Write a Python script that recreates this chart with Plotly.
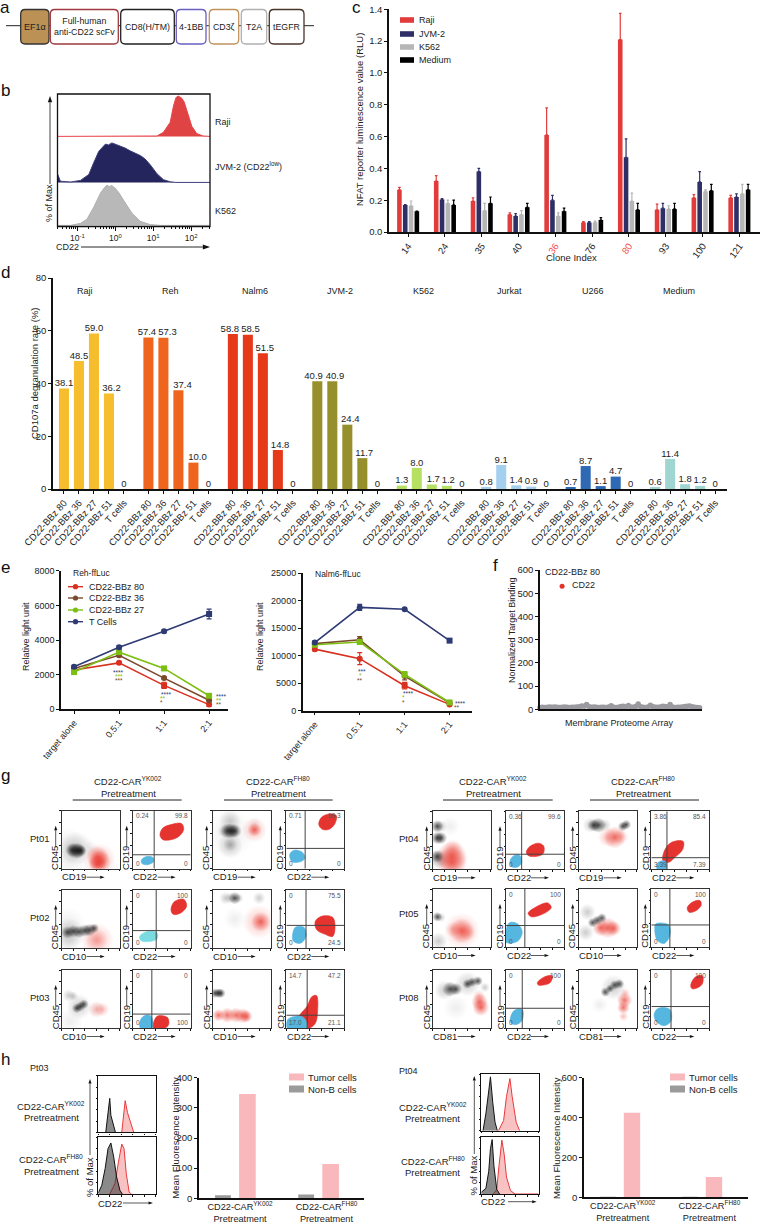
import numpy as np
import plotly.graph_objects as go

W, H = 760, 1224
FONT = "Liberation Sans"
INK = "#222222"

# ---------- panel b: histograms (log10 CD22, % of max)
B_RAJI_X = [-1.53, 0.6, 1.10, 1.27, 1.45, 1.535, 1.60, 1.66, 1.75, 1.82, 1.89, 2.02, 2.15, 2.32, 2.5]
B_RAJI_Y = [0, 0, 1, 10, 35, 75, 96, 100, 95, 85, 62, 25, 7, 1, 0]
B_JVM_X = [-1.53, -1.52, -1.45, -1.18, -0.92, -0.7, -0.57, -0.44, -0.35, -0.26, -0.18, -0.09, 0.02, 0.13, 0.26, 0.39, 0.52, 0.66, 0.78, 0.92, 1.1, 1.27, 1.45, 1.6, 2.5]
B_JVM_Y = [0, 20, 3, 1, 5, 20, 50, 78, 88, 97, 95, 100, 96, 92, 87, 80, 75, 68, 60, 45, 22, 7, 1.5, 0, 0]
B_K562_X = [-1.53, -1.18, -0.92, -0.75, -0.57, -0.39, -0.3, -0.22, -0.16, -0.1, 0, 0.1, 0.22, 0.44, 0.66, 0.92, 1.2, 2.5]
B_K562_Y = [0, 0, 5, 15, 45, 80, 92, 100, 96, 99, 92, 80, 62, 30, 10, 2, 0, 0]

# ---------- panel c
C_CLONES = ["14", "24", "35", "40", "36", "76", "80", "93", "100", "121"]
C_RAJI = [0.265, 0.32, 0.195, 0.11, 0.61, 0.06, 1.21, 0.14, 0.215, 0.215]
C_RAJI_TOP = [0.28, 0.355, 0.215, 0.12, 0.78, 0.065, 1.375, 0.175, 0.235, 0.23]
C_JVM = [0.17, 0.205, 0.38, 0.10, 0.20, 0.06, 0.47, 0.15, 0.315, 0.22]
C_JVM_TOP = [0.172, 0.21, 0.40, 0.115, 0.23, 0.065, 0.585, 0.18, 0.38, 0.24]
C_K562 = [0.165, 0.18, 0.135, 0.11, 0.10, 0.06, 0.195, 0.145, 0.255, 0.24]
C_K562_TOP = [0.195, 0.20, 0.18, 0.135, 0.12, 0.068, 0.245, 0.165, 0.265, 0.30]
C_MED = [0.13, 0.17, 0.18, 0.155, 0.13, 0.075, 0.14, 0.145, 0.26, 0.265]
C_MED_TOP = [0.132, 0.20, 0.22, 0.18, 0.15, 0.09, 0.18, 0.18, 0.30, 0.30]

# ---------- panel d
D_TARGETS = ["Raji", "Reh", "Nalm6", "JVM-2", "K562", "Jurkat", "U266", "Medium"]
D_CLONES = ["CD22-BBz 80", "CD22-BBz 36", "CD22-BBz 27", "CD22-BBz 51", "T cells"]
D_VALUES = [
    [38.1, 48.5, 59.0, 36.2, 0],
    [57.4, 57.3, 37.4, 10.0, 0],
    [58.8, 58.5, 51.5, 14.8, 0],
    [40.9, 40.9, 24.4, 11.7, 0],
    [1.3, 8.0, 1.7, 1.2, 0],
    [0.8, 9.1, 1.4, 0.9, 0],
    [0.7, 8.7, 1.1, 4.7, 0],
    [0.6, 11.4, 1.8, 1.2, 0],
]
D_COLORS = ["#F6BE2F", "#EF651D", "#E5391A", "#96902C", "#B6E062", "#A5CFEF", "#2F68B4", "#9FD6D2"]
D_LABEL_SHIFT = [
    [0, 0, 0, 0.17, 0],
    [-0.1, 0.27, 0.27, 0.27, 0],
    [-0.2, 0.18, 0.13, 0.15, 0],
    [-0.25, 0.18, 0.2, 0.13, 0],
    [0, 0, 0.1, 0.1, 0],
    [0, 0, 0, 0, 0],
    [0, 0, 0, 0, 0],
    [0, 0, 0, 0, 0],
]

# ---------- panel e
E_CATS = ["target alone", "0.5:1", "1:1", "2:1"]
E_NAMES = ["CD22-BBz 80", "CD22-BBz 36", "CD22-BBz 27", "T Cells"]
E_COLORS = ["#D9301F", "#7A4A2A", "#7DBE12", "#2D3A73"]
E1_T = [2450, 3580, 4500, 5500]
E1_27 = [2150, 3300, 2360, 780]
E1_36 = [2350, 3120, 1800, 520]
E1_80 = [2270, 2680, 1380, 270]
E1_T_ERR = [80, 100, 90, 280]
E1_27_ERR = [100, 90, 100, 60]
E1_36_ERR = [70, 80, 70, 50]
E1_80_ERR = [60, 80, 180, 100]
E2_T = [12400, 18800, 18450, 12750]
E2_27 = [12000, 12500, 6600, 1500]
E2_36 = [12200, 12900, 6300, 1450]
E2_80 = [11200, 9470, 4550, 1150]
E2_T_ERR = [300, 550, 200, 300]
E2_27_ERR = [300, 400, 500, 100]
E2_36_ERR = [350, 600, 700, 100]
E2_80_ERR = [300, 1100, 600, 100]

# ---------- panel f
F_BINDING = [8, 9, 8, 9, 10, 9, 10, 9, 8, 9, 10, 9, 8, 9, 9, 10, 11, 14, 13, 21, 11, 9, 10, 9, 8, 9, 9, 8, 10, 15,
             9, 8, 9, 12, 13, 10, 16, 10, 9, 12, 23, 11, 9, 8, 10, 17, 11, 9, 9, 10, 13, 12, 10, 21, 10, 8, 9, 9, 10, 12,
             13, 14, 11, 9, 8, 7]
F_CD22_X = [9]
F_CD22_Y = [530]

# ---------- panel g: gates [vline, hline], quadrant labels [UL, UR, LL, LR]
G_QUAD = {
    "Pt01Y": (37, 24, "0.24", "99.8", "0", "0"), "Pt01F": (32.5, 35, "0.71", "99.3", "0", "0"),
    "Pt02Y": (40.5, 30, "0", "100", "0", "0"), "Pt02F": (34, 39, "0", "75.5", "0", "24.5"),
    "Pt03Y": (33, 24, "0", "0", "0", "100"), "Pt03F": (36, 22, "14.7", "47.2", "17.0", "21.1"),
    "Pt04Y": (27, 26, "0.36", "99.6", "0", "0"), "Pt04F": (27, 20, "3.86", "85.4", "3.39", "7.39"),
    "Pt05Y": (32.5, 37, "0", "100", "0", "0"), "Pt05F": (32, 38, "0", "100", "0", "0"),
    "Pt08Y": (28, 34, "0", "100", "0", "0"), "Pt08F": (34, 37, "0", "100", "0", "0"),
}
G_RED = {
    "Pt01Y": [(47, 58), (52, 70), (66, 76), (84, 78), (88, 68), (80, 56), (66, 50), (52, 50)],
    "Pt01F": [(56, 76), (60, 88), (72, 94), (86, 92), (84, 78), (74, 68), (62, 68)],
    "Pt02Y": [(66, 66), (72, 80), (88, 84), (93, 72), (82, 60), (70, 58)],
    "Pt02F": [(50, 46), (62, 55), (80, 53), (84, 38), (80, 20), (66, 24), (52, 32)],
    "Pt03Y": [(36, 0), (38, 15), (44, 21), (60, 18), (62, 6), (56, 0)],
    "Pt03F": [(20, 16), (36, 38), (44, 54), (52, 56), (54, 30), (50, 8), (40, 0), (26, 4)],
    "Pt04Y": [(35, 30), (42, 40), (56, 45), (65, 40), (64, 27), (50, 22), (38, 24)],
    "Pt04F": [(20, 15), (24, 35), (36, 47), (55, 48), (54, 34), (40, 20), (30, 12)],
    "Pt05Y": [(38, 58), (50, 68), (72, 76), (78, 68), (66, 58), (44, 52)],
    "Pt05F": [(62, 68), (72, 78), (84, 80), (86, 72), (76, 62), (65, 60)],
    "Pt08Y": [(54, 78), (66, 88), (80, 90), (76, 78), (64, 74), (56, 74)],
    "Pt08F": [(68, 74), (76, 88), (88, 90), (88, 76), (76, 68), (70, 68)],
}
G_BLUE = {
    "Pt01Y": [(15, 15), (24, 21), (35, 19), (36, 12), (26, 7), (16, 9)],
    "Pt01F": [(6, 25), (14, 32), (28, 28), (32, 18), (24, 12), (10, 12)],
    "Pt02Y": [(12, 20), (24, 28), (42, 26), (42, 16), (28, 11), (14, 13)],
    "Pt02F": [(11, 24), (16, 36), (30, 36), (34, 20), (24, 8), (12, 12)],
    "Pt03Y": [(13, 0), (14, 15), (22, 22), (32, 20), (33, 0)],
    "Pt03F": [(2, 0), (2, 14), (14, 20), (30, 18), (36, 0)],
    "Pt04Y": [(7, 15), (14, 24), (24, 24), (27, 12), (20, 4), (9, 5)],
    "Pt04F": [(10, 0), (12, 12), (24, 14), (26, 0)],
    "Pt05Y": [(0, 28), (6, 42), (20, 40), (28, 25), (20, 10), (0, 8)],
    "Pt05F": [(6, 30), (8, 40), (30, 38), (32, 20), (22, 6), (10, 12)],
    "Pt08Y": [(7, 14), (14, 30), (28, 32), (28, 14), (18, 6), (9, 8)],
    "Pt08F": [(5, 24), (12, 34), (32, 32), (34, 12), (22, 4), (8, 12)],
}
# density clouds: (x, y, diameter, kind)
G_CLOUD = {
    "Pt01Y": [(10, 40, 26, "l"), (15, 15, 26, "l"), (25, 35, 24, "g"), (50, 35, 12, "l"), (18, 32, 10, "k"), (24, 31, 12, "k"), (29, 31, 11, "k"), (33, 31, 8, "k"),
              (62, 20, 16, "r"), (66, 12, 16, "r"), (62, 8, 13, "r"), (65, 15, 24, "p")],
    "Pt01F": [(30, 60, 36, "l"), (30, 82, 16, "g"), (30, 40, 18, "g"), (30, 42, 10, "g"), (20, 65, 10, "g"), (26, 65, 11, "k"), (32, 65, 11, "k"), (38, 65, 10, "k"),
              (72, 67, 18, "p"), (72, 67, 10, "r"), (72, 78, 9, "l")],
    "Pt02Y": [(10, 40, 26, "l"), (12, 10, 18, "l"), (14, 25, 22, "g"), (10, 27, 9, "k"), (20, 29, 9, "k"), (30, 28, 9, "k"), (40, 30, 9, "k"), (48, 31, 9, "k"), (56, 34, 7, "k"),
              (61, 14, 24, "p"), (60, 14, 16, "p")],
    "Pt02F": [(22, 86, 9, "g"), (30, 86, 8, "g"), (38, 86, 9, "k"), (45, 86, 7, "g"), (80, 86, 9, "g"), (38, 50, 16, "l"), (83, 45, 14, "r"), (80, 45, 24, "p")],
    "Pt03Y": [(12, 56, 9, "g"), (20, 55, 7, "g"), (30, 37, 18, "g"), (26, 34, 7, "k"), (32, 37, 7, "k"), (38, 41, 7, "k"), (15, 12, 18, "l"),
              (60, 32, 12, "l"), (60, 32, 12, "p"), (70, 32, 10, "p")],
    "Pt03F": [(4, 60, 7, "k"), (10, 60, 7, "k"), (14, 60, 7, "k"), (10, 22, 9, "r"), (25, 22, 11, "r"), (40, 22, 11, "r"), (52, 21, 11, "r"), (58, 20, 9, "r")],
    "Pt04Y": [(30, 74, 14, "l"), (8, 74, 9, "k"), (14, 74, 9, "g"), (8, 54, 9, "k"), (14, 54, 9, "k"), (8, 18, 14, "g"), (14, 18, 14, "g"), (8, 22, 9, "k"),
              (33, 22, 22, "r"), (33, 12, 22, "r"), (35, 35, 14, "p")],
    "Pt04F": [(20, 76, 11, "g"), (26, 76, 9, "k"), (34, 76, 11, "k"), (45, 76, 9, "g"), (82, 77, 7, "k"), (76, 74, 7, "k"), (50, 55, 14, "p"), (62, 55, 16, "r"), (72, 56, 11, "p")],
    "Pt05Y": [(8, 52, 7, "k"), (14, 51, 7, "g"), (10, 10, 13, "g"), (35, 30, 11, "p"), (50, 28, 18, "r"), (60, 25, 12, "p"), (50, 28, 26, "p")],
    "Pt05F": [(15, 60, 12, "g"), (12, 25, 12, "g"), (24, 42, 7, "k"), (32, 46, 7, "k"), (40, 50, 7, "k"), (38, 33, 12, "r"), (50, 33, 15, "r"), (60, 32, 11, "r")],
    "Pt08Y": [(20, 65, 14, "g"), (60, 76, 18, "g"), (90, 70, 7, "g"), (40, 35, 18, "l"), (30, 67, 11, "k"), (40, 67, 9, "k"), (60, 76, 7, "k"), (68, 79, 7, "k"), (78, 81, 7, "k"),
              (81, 45, 12, "r"), (83, 35, 12, "r"), (80, 55, 9, "p")],
    "Pt08F": [(60, 70, 18, "g"), (36, 40, 12, "l"), (46, 62, 7, "k"), (54, 68, 6, "k"), (62, 74, 7, "k"), (70, 76, 7, "k"), (79, 48, 11, "r"), (77, 35, 9, "r"), (77, 20, 7, "p"), (80, 60, 7, "p")],
}
G_XLABELS = {"Pt01": "CD19", "Pt02": "CD10", "Pt03": "CD10", "Pt04": "CD19", "Pt05": "CD10", "Pt08": "CD81"}
KIND = {"k": "10,10,10,1", "g": "80,80,80,0.42", "l": "130,130,130,0.2", "r": "232,55,45,1", "p": "240,90,80,0.55"}

# ---------- panel h
H_GROUPS = ["CD22-CAR<sup>YK002</sup><br>Pretreatment", "CD22-CAR<sup>FH80</sup><br>Pretreatment"]
H1_TUMOR = [346, 114]
H1_NONB = [10, 13]
H2_TUMOR = [424, 102]
H2_NONB = [3, 3]
H1Y_GRAY = ([13, 17, 20, 22, 26, 30], [0, 30, 60, 30, 12, 0])
H1Y_RED = ([41, 44, 47, 51, 56, 62], [0, 25, 56, 35, 18, 0])
H1F_GRAY = ([0, 6, 12, 17, 22, 27, 32, 38, 42], [2, 15, 45, 80, 90, 65, 30, 6, 0])
H1F_RED = ([20, 29, 35, 41, 45, 49, 54, 58], [0, 18, 55, 88, 80, 35, 3, 0])
H2Y_GRAY = ([3, 8, 13, 16, 20, 24, 28], [0, 30, 70, 95, 50, 15, 0])
H2Y_RED = ([30, 39, 44, 50, 54, 61, 67], [0, 18, 60, 92, 60, 15, 0])
H2F_GRAY = ([0, 8, 13, 16, 19, 22, 27, 32], [3, 10, 40, 80, 96, 50, 8, 0])
H2F_RED = ([21, 27, 31, 36, 40, 44, 51, 59, 100], [0, 8, 50, 95, 70, 30, 6, 0, 0])

# ---------- helpers
fig = go.Figure()
layout = {}
ann = []
shp = []
_n = 0


def axes(x0, y0, x1, y1, xa, ya):
    global _n
    _n += 1
    s = "" if _n == 1 else str(_n)
    base = dict(showgrid=False, zeroline=False, tickcolor="#111", tickfont=dict(size=9.5, color=INK))
    layout[f"xaxis{s}"] = {**base, "domain": [x0 / W, x1 / W], "anchor": f"y{s}", **xa}
    layout[f"yaxis{s}"] = {**base, "domain": [1 - y1 / H, 1 - y0 / H], "anchor": f"x{s}", **ya}
    return f"x{s}", f"y{s}"


def txt(x, y, t, size=9.5, anchor="center", angle=0, color=INK):
    ann.append(dict(x=x / W, y=1 - y / H, xref="paper", yref="paper", text=t, showarrow=False, xanchor=anchor,
                    yanchor="middle", textangle=angle, font=dict(size=size, color=color, family=FONT)))


def px_rect(x0, y0, x1, y1, fill, line="rgba(0,0,0,0)", lw=0):
    shp.append(dict(type="rect", xref="paper", yref="paper", x0=x0 / W, x1=x1 / W, y0=1 - y0 / H, y1=1 - y1 / H,
                    fillcolor=fill, line=dict(color=line, width=lw)))


def px_line(x0, y0, x1, y1, color="#222", lw=1):
    shp.append(dict(type="line", xref="paper", yref="paper", x0=x0 / W, x1=x1 / W, y0=1 - y0 / H, y1=1 - y1 / H,
                    line=dict(color=color, width=lw)))


def px_dot(x, y, r, color):
    shp.append(dict(type="circle", xref="paper", yref="paper", x0=(x - r) / W, x1=(x + r) / W, y0=1 - (y + r) / H,
                    y1=1 - (y - r) / H, fillcolor=color, line=dict(width=0)))


def arrow(x0, y0, x1, y1, w=0.8, head=3.5):
    """line plus filled head, both in page pixels"""
    L = np.hypot(x1 - x0, y1 - y0)
    ux, uy = (x1 - x0) / L, (y1 - y0) / L
    bx, by = x1 - ux * head * 1.8, y1 - uy * head * 1.8
    px_line(x0, y0, bx, by, "#111", w)
    hw = head * 0.62
    pts = [(x1, y1), (bx - uy * hw, by + ux * hw), (bx + uy * hw, by - ux * hw)]
    p = "M" + " L".join(f"{a / W:.5f},{1 - b / H:.5f}" for a, b in pts) + " Z"
    shp.append(dict(type="path", xref="paper", yref="paper", path=p, fillcolor="#111", line=dict(width=0)))


def round_box(x0, y0, x1, y1, color, fill="white", r=4.5, lw=1.3):
    X = lambda v: f"{v / W:.5f}"
    Y = lambda v: f"{1 - v / H:.5f}"
    p = (f"M{X(x0 + r)},{Y(y0)} L{X(x1 - r)},{Y(y0)} Q{X(x1)},{Y(y0)} {X(x1)},{Y(y0 + r)} "
         f"L{X(x1)},{Y(y1 - r)} Q{X(x1)},{Y(y1)} {X(x1 - r)},{Y(y1)} L{X(x0 + r)},{Y(y1)} "
         f"Q{X(x0)},{Y(y1)} {X(x0)},{Y(y1 - r)} L{X(x0)},{Y(y0 + r)} Q{X(x0)},{Y(y0)} {X(x0 + r)},{Y(y0)} Z")
    shp.append(dict(type="path", xref="paper", yref="paper", path=p, fillcolor=fill, line=dict(color=color, width=lw)))


AXL = dict(showline=True, linecolor="#111", linewidth=1.5, ticks="outside", ticklen=3, tickwidth=1.2)

# ---------- panel letters
for lab, x, y in [("a", 5, 8), ("b", 5, 91), ("c", 356, 8), ("d", 5, 272), ("e", 5, 567), ("f", 495, 565), ("g", 5, 775), ("h", 5, 1059)]:
    txt(x, y, lab, size=17, color="#111")

# ---------- panel a
px_line(6, 25.7, 314, 25.7, "#222", 1)
for x0, x1, c, f, t, ts in [
    (20.7, 49, "#333", "#BC9155", "EF1α", 9), (50.3, 118.3, "#A03A3E", "white", "Full-human<br>anti-CD22 scFv", 8.8),
    (120.7, 174.3, "#222", "white", "CD8(H/TM)", 8.8), (176.3, 206, "#6A5FC0", "white", "4-1BB", 8.8),
    (209.3, 238.7, "#C2925D", "white", "CD3ζ", 8.8), (241.3, 266.7, "#B0B0B0", "white", "T2A", 8.8),
    (269.3, 304, "#4A3428", "white", "tEGFR", 8.8)]:
    round_box(x0, 9.5, x1, 44, c, f)
    txt((x0 + x1) / 2, 26.5, t, size=ts)

# ---------- panel b
rows = [(94, 137, 105, B_RAJI_X, B_RAJI_Y, "#E04343", "#E8454A"), (137, 183, 115, B_JVM_X, B_JVM_Y, "#24255C", "#3E3F7A"),
        (183, 226, 105, B_K562_X, B_K562_Y, "#B8B8B8", "#B0B0B0")]
for i, (y0, y1, top, xs, ys, fc, lc) in enumerate(rows):
    last = i == 2
    minor = [d + m for d in (-2, -1, 0, 1, 2) for m in np.log10([2, 3, 4, 5, 6, 7, 8, 9])]
    minor = [m for m in minor if -1.526 < m < 2.5]
    xa = dict(range=[-1.526, 2.5], showline=False, ticks="outside" if last else "", ticklen=4, tickwidth=1,
              tickvals=[-1, 0, 1, 2] if last else [], ticktext=["10<sup>-1</sup>", "10<sup>0</sup>", "10<sup>1</sup>", "10<sup>2</sup>"] if last else [],
              tickfont=dict(size=8.5, color=INK), showticklabels=last)
    if last:
        xa["minor"] = dict(tickvals=minor, ticks="outside", ticklen=2, tickwidth=0.8, tickcolor="#111")
    xr, yr = axes(57.5, y0, 210, y1, xa, dict(range=[-1.5, top], showline=False, ticks="", showticklabels=False))
    fig.add_trace(go.Scatter(x=xs, y=ys, xaxis=xr, yaxis=yr, mode="lines", fill="tozeroy", fillcolor=fc,
                             line=dict(color=lc, width=1), showlegend=False, cliponaxis=False))
px_rect(57.5, 94, 210, 226.5, "rgba(0,0,0,0)", "#111", 1.3)
txt(213, 122, "Raji", anchor="left", size=9)
txt(213, 166, "JVM-2 (CD22<sup>low</sup>)", anchor="left", size=9)
txt(213, 211, "K562", anchor="left", size=9)
txt(49, 203, "% of Max", angle=-90, size=9)
arrow(50, 184, 50, 96)
txt(67, 247, "CD22", size=9)
arrow(81, 247, 210, 247, w=0.9, head=4)

# ---------- panel c
xr, yr = axes(389, 9.3, 760, 232, dict(AXL, range=[-0.52, 9.56], tickvals=list(range(10)), tickangle=-55,
              ticktext=[f'<span style="color:#F0524F">{c}</span>' if c in ("36", "80") else c for c in C_CLONES]),
              dict(AXL, range=[0, 1.4], tickvals=[0, .2, .4, .6, .8, 1, 1.2, 1.4], tickformat=".1f"))
for j, (v, top, col) in enumerate([(C_RAJI, C_RAJI_TOP, "#E23B3B"), (C_JVM, C_JVM_TOP, "#2E2F66"), (C_K562, C_K562_TOP, "#B6B6B6"), (C_MED, C_MED_TOP, "#000000")]):
    x = [i + (j - 1.5) * 0.158 for i in range(10)]
    fig.add_trace(go.Bar(x=x, y=v, width=0.125, xaxis=xr, yaxis=yr, marker=dict(color=col, line=dict(width=0)), showlegend=False,
                         error_y=dict(type="data", symmetric=False, array=[t - a for t, a in zip(top, v)],
                                      arrayminus=[0] * 10, color=col, thickness=1.2, width=1.3)))
txt(360, 120, "NFAT reporter luminescence value (RLU)", angle=-90)
txt(571, 257, "Clone Index")
for y, col, t in [(20, "#E23B3B", "Raji"), (34, "#2E2F66", "JVM-2"), (47, "#B6B6B6", "K562"), (60, "#000000", "Medium")]:
    px_rect(400, y - 2.8, 414, y + 2.8, col)
    txt(417, y, t, anchor="left", size=9)

# ---------- panel d
D_STEP = 5.63
d_x = [g * D_STEP + i for g in range(8) for i in range(5)]
d_y = [v for row in D_VALUES for v in row]
d_c = [D_COLORS[g] for g in range(8) for _ in range(5)]
d_t = [f"{v:.1f}" if v else "0" for v in d_y]
d_s = [s for row in D_LABEL_SHIFT for s in row]
xr, yr = axes(53, 278, 727, 489, dict(AXL, range=[-0.73, 44.2], tickvals=d_x, ticktext=D_CLONES * 8, tickangle=-48),
              dict(AXL, range=[0, 80], tickvals=[0, 20, 40, 60, 80]))
fig.add_trace(go.Bar(x=d_x, y=d_y, width=0.67, xaxis=xr, yaxis=yr, marker=dict(color=d_c, line=dict(width=0)), showlegend=False))
fig.add_trace(go.Scatter(x=[a + b for a, b in zip(d_x, d_s)], y=d_y, xaxis=xr, yaxis=yr, mode="text", text=d_t, textposition="top center",
                         cliponaxis=False, textfont=dict(size=9.5, color=INK, family=FONT), showlegend=False))
txt(34, 373, "CD107a degranulation rate (%)", angle=-90)
for t, x in zip(D_TARGETS, [85, 170, 255, 340, 424, 509, 593, 679]):
    txt(x, 291, t, size=9)

# ---------- panel e
sym_sets = [
    ["circle", "circle", "square", "circle"], ["circle"] * 4, ["square"] * 4, ["circle", "circle", "circle", "square"]
]


def lines(xr, yr, series, errs):
    for s, e, c, sym in zip(series, errs, E_COLORS, sym_sets):
        fig.add_trace(go.Scatter(x=E_CATS, y=s, xaxis=xr, yaxis=yr, mode="lines+markers", showlegend=False, cliponaxis=False,
                                 line=dict(color=c, width=1.6), marker=dict(color=c, size=6, symbol=sym),
                                 error_y=dict(type="data", array=e, color=c, thickness=1.2, width=2.5)))


xr, yr = axes(61, 570.7, 228, 709.3, dict(AXL, type="category", categoryorder="array", categoryarray=E_CATS, range=[-0.29, 3.42], tickangle=-50, tickfont=dict(size=9, color=INK)),
              dict(AXL, range=[0, 8000], tickvals=[0, 2000, 4000, 6000, 8000], tickfont=dict(size=9, color=INK)))
lines(xr, yr, [E1_80, E1_36, E1_27, E1_T], [E1_80_ERR, E1_36_ERR, E1_27_ERR, E1_T_ERR])
txt(26, 637, "Relative light unit", angle=-90, size=9)
txt(71, 573, "Reh-ffLuc", anchor="left", size=8.5)
for y, n, c in zip([586.7, 598, 610, 621.7], E_NAMES, E_COLORS):
    px_line(68, y, 83, y, c, 1.4)
    px_dot(75.5, y, 2.6, c)
    txt(87, y, n, anchor="left", size=9)

xr, yr = axes(302.7, 573.3, 472, 710.7, dict(AXL, type="category", categoryorder="array", categoryarray=E_CATS, range=[-0.27, 3.5], tickangle=-50, tickfont=dict(size=9, color=INK)),
              dict(AXL, range=[0, 25000], tickvals=[0, 5000, 10000, 15000, 20000, 25000], ticktext=["0", "5000", "10000", "15000", "20000", "25000"], tickfont=dict(size=9, color=INK)))
lines(xr, yr, [E2_80, E2_36, E2_27, E2_T], [E2_80_ERR, E2_36_ERR, E2_27_ERR, E2_T_ERR])
txt(260, 637, "Relative light unit", angle=-90, size=9)
txt(313, 574, "Nalm6-ffLuc", anchor="left", size=8.5)
NAVY, GRN, BRN = E_COLORS[3], E_COLORS[2], E_COLORS[1]
for x, y, s, c in [(119, 672.5, "****", NAVY), (119, 676.5, "***", GRN), (119, 680.5, "***", BRN),
                   (166, 694, "****", NAVY), (163, 698, "**", GRN), (161, 702, "*", BRN),
                   (221.7, 696, "****", NAVY), (219, 700, "**", GRN), (219, 704.5, "**", BRN),
                   (362, 671.5, "***", NAVY), (360, 675.5, "*", GRN), (360, 680, "**", BRN),
                   (408, 693.5, "****", NAVY), (403, 697.5, "*", GRN), (403, 702, "*", BRN),
                   (460.7, 703, "****", NAVY), (457, 707.5, "**", BRN)]:
    txt(x, y, s, size=6.5, color=c)

# ---------- panel f
xr, yr = axes(540, 570, 702, 709.3, dict(AXL, range=[0, 66], ticks="", showticklabels=False),
              dict(AXL, range=[0, 600], tickvals=[0, 100, 200, 300, 400, 500, 600]))
fig.add_trace(go.Scatter(x=list(range(len(F_BINDING))), y=F_BINDING, xaxis=xr, yaxis=yr, mode="markers", cliponaxis=False,
                         marker=dict(color="#9A9AA0", size=5.5), showlegend=False))
fig.add_trace(go.Scatter(x=F_CD22_X, y=F_CD22_Y, xaxis=xr, yaxis=yr, mode="markers", cliponaxis=False,
                         marker=dict(color="#E2332B", size=5), showlegend=False))
txt(512, 631, "Normalized Target Binding", angle=-90, size=9)
txt(619, 723, "Membrane Proteome Array", size=9)
txt(543, 572, "CD22-BBz 80", anchor="left", size=9)
txt(570, 585, "CD22", anchor="left", size=9)

# ---------- panel g
COLS_L = [61.7, 132.7, 212.7, 286.3]
COLS_R = [432.7, 506, 578.7, 651.3]
ROWS_L = [("Pt01", 810.7), ("Pt02", 890), ("Pt03", 970)]
ROWS_R = [("Pt04", 811.3), ("Pt05", 889), ("Pt08", 970)]
BOX = 58
BOX_AX = dict(showline=True, linecolor="#333", linewidth=1, mirror=True, ticks="outside", ticklen=1.5, tickwidth=0.6,
              showticklabels=False, tickvals=[0, 20, 40, 60, 80, 100], range=[0, 100])


def closed(pts):
    return [p[0] for p in pts] + [pts[0][0]], [p[1] for p in pts] + [pts[0][1]]


def quad_text(xr, yr, x, y, t, a):
    ann.append(dict(x=x, y=y, xref=xr, yref=yr, text=t, showarrow=False, xanchor=a, yanchor="middle",
                    font=dict(size=6.5, color="#555", family=FONT)))


def g_panel(col_x, y0, key, kind, xlab):
    x1 = col_x + BOX
    y1 = y0 + BOX
    xr, yr = axes(col_x, y0, x1, y1, dict(BOX_AX), dict(BOX_AX))
    if kind == "cloud":
        cl = G_CLOUD[key]
        for k in ("l", "g", "p", "r", "k"):
            pts = [c for c in cl if c[3] == k]
            if not pts:
                continue
            # plotly paints the radial gradient from gradient.color (centre) to marker.color (rim)
            fig.add_trace(go.Scatter(x=[p[0] for p in pts], y=[p[1] for p in pts], xaxis=xr, yaxis=yr, mode="markers", showlegend=False,
                                     marker=dict(size=[p[2] * 1.4 for p in pts], color=f"rgba({KIND[k].rsplit(',', 1)[0]},0)", line=dict(width=0),
                                                 gradient=dict(type="radial", color=f"rgba({KIND[k]})"))))
    else:
        vx, hy, ul, ur, ll, lr = G_QUAD[key]
        for pts, col in [(G_RED[key], "#E5332F"), (G_BLUE[key], "#7ADCE0" if key == "Pt02Y" else "#55B6E0")]:
            xs, ys = closed(pts)
            fig.add_trace(go.Scatter(x=xs, y=ys, xaxis=xr, yaxis=yr, mode="lines", fill="toself", fillcolor=col,
                                     line=dict(color=col, width=0.6, shape="spline", smoothing=1), showlegend=False))
        for d in (dict(x0=vx, x1=vx, y0=0, y1=100), dict(x0=0, x1=100, y0=hy, y1=hy)):
            shp.append(dict(type="line", xref=xr, yref=yr, line=dict(color="#444", width=1), **d))
        quad_text(xr, yr, 2, 91, ul, "left")
        quad_text(xr, yr, 98, 91, ur, "right")
        quad_text(xr, yr, 2, 9, ll, "left")
        quad_text(xr, yr, 98, 9, lr, "right")
    txt(col_x + 12.5, y1 + 8, xlab)
    arrow(col_x + 25, y1 + 8.5, col_x + 43, y1 + 8.5, w=0.7, head=2.5)
    ylab = "CD45" if kind == "cloud" else "CD19"
    txt(col_x - 6.5, y1 - 11, ylab, angle=-90)
    arrow(col_x - 6, y1 - 22, col_x - 6, y1 - 43, w=0.7, head=2.5)


for cols, rows_ in [(COLS_L, ROWS_L), (COLS_R, ROWS_R)]:
    for pt, y0 in rows_:
        xl = G_XLABELS[pt]
        g_panel(cols[0], y0, pt + "Y", "cloud", xl)
        g_panel(cols[1], y0, pt + "Y", "quad", "CD22")
        g_panel(cols[2], y0, pt + "F", "cloud", xl)
        g_panel(cols[3], y0, pt + "F", "quad", "CD22")
        txt(28 if cols is COLS_L else 397, {"Pt01": 838, "Pt02": 917, "Pt03": 997, "Pt04": 838, "Pt05": 913, "Pt08": 997}[pt], pt, anchor="left")

for cx, x0, x1, sup in [(128, 72.7, 181.7, "YK002"), (278, 224, 332.7, "FH80"), (493, 443, 552.7, "YK002"), (643, 590, 699, "FH80")]:
    txt(cx, 781, f"CD22-CAR<sup>{sup}</sup>")
    txt(cx, 793, "Pretreatment")
    px_line(x0, 800, x1, 800, "#222", 1)


# ---------- panel h
def h_hist(x0, y0, gray, red):
    xr, yr = axes(x0, y0, x0 + 57.2, y0 + 56.7,
                  dict(BOX_AX, linecolor="#111", linewidth=1.2),
                  dict(BOX_AX, linecolor="#111", linewidth=1.2, range=[0, 100]))
    fig.add_trace(go.Scatter(x=red[0], y=red[1], xaxis=xr, yaxis=yr, mode="lines", fill="tozeroy", fillcolor="rgba(240,110,110,0.42)",
                             line=dict(color="#E8393B", width=1), showlegend=False))
    fig.add_trace(go.Scatter(x=gray[0], y=gray[1], xaxis=xr, yaxis=yr, mode="lines", fill="tozeroy", fillcolor="rgba(60,60,60,0.6)",
                             line=dict(color="#111", width=1), showlegend=False))


def h_bars(x0, x1, y0, y1, center, unit, tum, nonb, ymax, tv, off, tickv):
    xr, yr = axes(x0, y0, x1, y1, dict(AXL, range=[(x0 - center) / unit, (x1 - center) / unit], tickvals=tickv, ticktext=H_GROUPS, ticklen=0, tickwidth=0,
                                       ticklabelstandoff=-1, tickfont=dict(size=9.2, color=INK)),
                  dict(AXL, range=[0, ymax], tickvals=tv))
    fig.add_trace(go.Bar(x=[i - off for i in range(2)], y=nonb, width=0.19, xaxis=xr, yaxis=yr, marker=dict(color="#9B9B9B", line=dict(width=0)), showlegend=False))
    fig.add_trace(go.Bar(x=[i + off for i in range(2)], y=tum, width=0.2, xaxis=xr, yaxis=yr, marker=dict(color="#F9B9BC", line=dict(width=0)), showlegend=False))


h_hist(98.3, 1075.7, H1Y_GRAY, H1Y_RED)
h_hist(98.3, 1137.3, H1F_GRAY, H1F_RED)
h_bars(199, 364, 1077.7, 1198.3, 235.2, 83.2, H1_TUMOR, H1_NONB, 400, [0, 100, 200, 300, 400], 0.147, [0.058, 1.097])
h_hist(481.3, 1074, H2Y_GRAY, H2Y_RED)
h_hist(481.3, 1137.3, H2F_GRAY, H2F_RED)
h_bars(584, 748, 1077.7, 1197.3, 620, 82, H2_TUMOR, H2_NONB, 600, [0, 200, 400, 600], 0.146, [0.033, 1.09])

txt(28, 1068, "Pt03", anchor="left", size=9)
txt(397, 1071, "Pt04", anchor="left", size=9)
for cx, ys in [(51, (1105.7, 1117, 1159, 1171)), (432.7, (1106.7, 1118, 1160.7, 1172.7))]:
    txt(cx, ys[0], "CD22-CAR<sup>YK002</sup>")
    txt(cx, ys[1], "Pretreatment")
    txt(cx, ys[2], "CD22-CAR<sup>FH80</sup>")
    txt(cx, ys[3], "Pretreatment")
txt(89, 1177, "% of Max", angle=-90)
arrow(90, 1155, 90, 1079, w=0.7, head=2.5)
txt(110, 1203, "CD22")
arrow(123, 1203, 153, 1203, w=0.7, head=2.5)
txt(473.7, 1175.7, "% of Max", angle=-90)
arrow(474.3, 1154, 474.3, 1076, w=0.7, head=2.5)
txt(493, 1201.7, "CD22")
arrow(508, 1201.7, 536.7, 1201.7, w=0.7, head=2.5)
txt(174.7, 1138, "Mean Fluorescence Intensity", angle=-90)
txt(556, 1138, "Mean Fluorescence Intensity", angle=-90)
for x0, tx in [(289, 306), (670, 687)]:
    px_rect(x0, 1073.5, x0 + 15, 1080.5, "#F9B9BC")
    txt(tx, 1077, "Tumor cells", anchor="left")
    px_rect(x0, 1085.5, x0 + 15, 1092.5, "#9B9B9B")
    txt(tx, 1089, "Non-B cells", anchor="left")

fig.update_layout(width=W, height=H, autosize=False, margin=dict(l=0, r=0, t=0, b=0, autoexpand=False), paper_bgcolor="white", plot_bgcolor="rgba(0,0,0,0)",
                  barmode="overlay", showlegend=False, font=dict(family=FONT, color=INK, size=9.5),
                  annotations=ann, shapes=shp, **layout)
fig.write_html("out.html", config={"displayModeBar": False}, post_script="document.body.style.margin='0';document.body.style.overflow='hidden';")
